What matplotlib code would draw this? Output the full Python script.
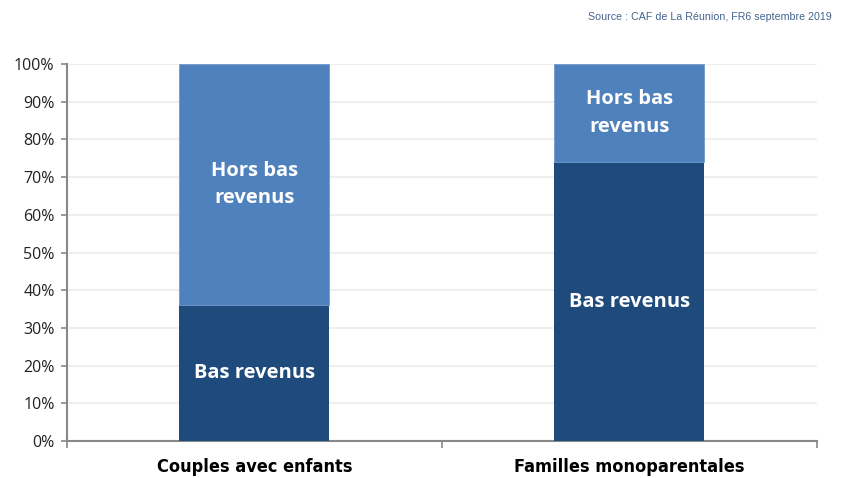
import matplotlib
matplotlib.use("Agg")
import matplotlib.pyplot as plt
from matplotlib.ticker import PercentFormatter

# Données
categories = ["Couples avec enfants", "Familles monoparentales"]
bas_revenus = [36, 74]
hors_bas_revenus = [64, 26]
labels_bas = ["Bas revenus", "Bas revenus"]
labels_hors = ["Hors bas\nrevenus", "Hors bas\nrevenus"]
yticks = [0, 10, 20, 30, 40, 50, 60, 70, 80, 90, 100]

dark = "#1f4a7c"
light = "#4f81bd"

fig = plt.figure(figsize=(8.42, 4.78), dpi=100)
ax = fig.add_axes([0.0796, 0.0774, 0.8904, 0.7886])

x = list(range(len(categories)))
ax.bar(x, bas_revenus, width=0.4, color=dark, zorder=3)
ax.bar(x, hors_bas_revenus, width=0.4, bottom=bas_revenus, color=light,
       edgecolor="#7099cf", linewidth=0.6, zorder=3)

for i in x:
    ax.text(i, bas_revenus[i] / 2, labels_bas[i], ha="center", va="center",
            color="white", fontsize=14.5, fontweight="bold", family="Open Sans", zorder=4)
    ax.text(i, bas_revenus[i] + hors_bas_revenus[i] / 2, labels_hors[i],
            ha="center", va="center", color="white", fontsize=14.5,
            fontweight="bold", family="Open Sans", linespacing=1.5, zorder=4)

ax.set_xlim(-0.5, 1.5)
ax.set_ylim(0, 100)
ax.set_yticks(yticks)
ax.yaxis.set_major_formatter(PercentFormatter(decimals=0))
ax.grid(axis="y", color="#efefef", linewidth=1.5, zorder=0)

ax.set_xticks(x)
ax.set_xticklabels(categories, fontsize=13, fontweight="bold",
                   family="DejaVu Sans", fontstretch="condensed")
ax.set_xticks([-0.5, 0.5, 1.5], minor=True)
ax.tick_params(axis="x", which="major", length=0, pad=12)
ax.tick_params(axis="x", which="minor", length=5, color="#888888", width=1.2)
ax.tick_params(axis="y", length=4, color="#888888", width=1.2, labelsize=11.5,
               labelcolor="#222222", pad=5)
for lab in ax.get_yticklabels():
    lab.set_family("Open Sans")

for side in ["top", "right"]:
    ax.spines[side].set_visible(False)
for side in ["left", "bottom"]:
    ax.spines[side].set_color("#888888")
    ax.spines[side].set_linewidth(1.5)

fig.text(0.988, 0.965, "Source : CAF de La Réunion, FR6 septembre 2019",
         ha="right", va="center", fontsize=7.7, color="#44648e",
         family="Liberation Sans")

fig.savefig("out.png", dpi=100)
